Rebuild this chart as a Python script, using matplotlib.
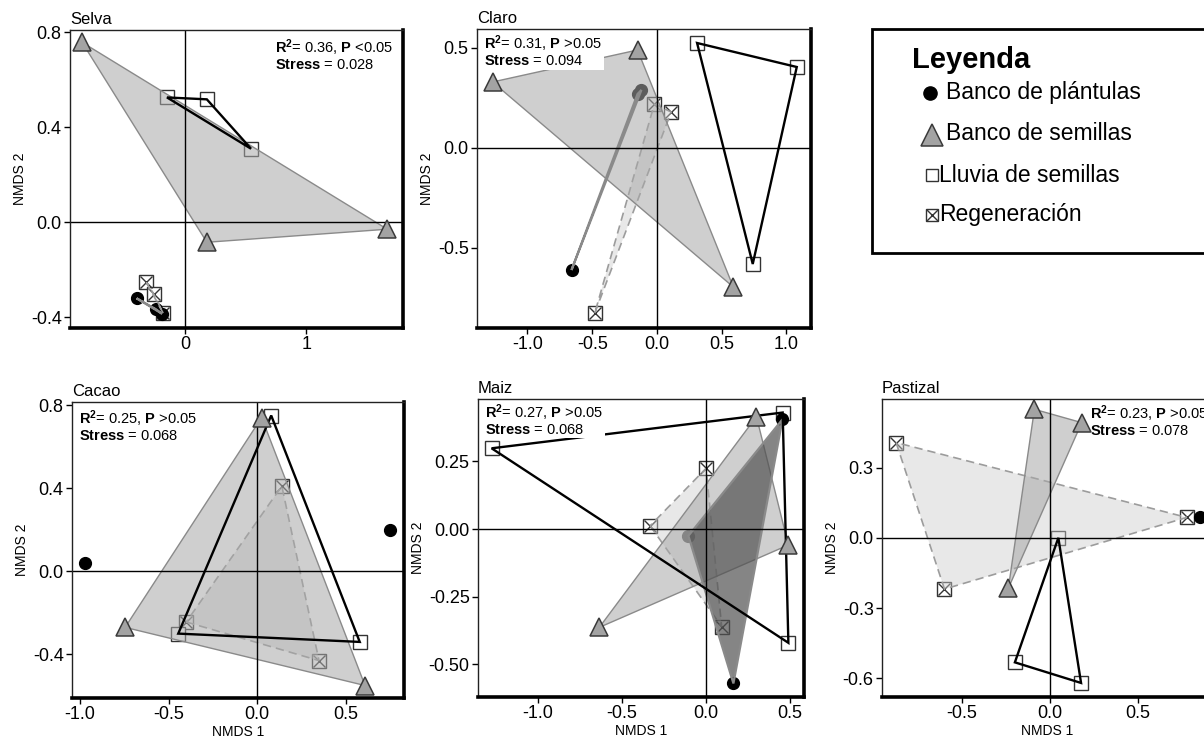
import matplotlib
matplotlib.use('Agg')
import matplotlib.pyplot as plt
from matplotlib.patches import Rectangle

plt.rcParams['font.family'] = ['Liberation Sans', 'DejaVu Sans']
plt.rcParams['axes.unicode_minus'] = False
plt.rcParams['mathtext.fontset'] = 'custom'
plt.rcParams['mathtext.rm'] = 'Liberation Sans'
plt.rcParams['mathtext.bf'] = 'Liberation Sans:bold'
plt.rcParams['mathtext.it'] = 'Liberation Sans:italic'

# ---------------- data ----------------
panel_names = ['Selva', 'Claro', 'Cacao', 'Maiz', 'Pastizal']
r2_values = ['0.36', '0.31', '0.25', '0.27', '0.23']
p_values = ['<0.05', '>0.05', '>0.05', '>0.05', '>0.05']
stress_values = ['0.028', '0.094', '0.068', '0.068', '0.078']

group_labels = ['Banco de plántulas', 'Banco de semillas', 'Lluvia de semillas', 'Regeneración']

selva_plantulas = [(-0.40, -0.32), (-0.24, -0.366), (-0.19, -0.385)]
selva_semillas = [(-0.85, 0.758), (0.18, -0.084), (1.67, -0.029)]
selva_lluvia = [(-0.149, 0.526), (0.18, 0.518), (0.545, 0.31)]
selva_regeneracion = [(-0.32, -0.253), (-0.26, -0.30), (-0.18, -0.383)]

claro_plantulas = [(-0.66, -0.61), (-0.15, 0.27), (-0.12, 0.29)]
claro_semillas = [(-1.27, 0.33), (-0.15, 0.49), (0.59, -0.695)]
claro_lluvia = [(0.31, 0.525), (1.08, 0.405), (0.74, -0.58)]
claro_regeneracion = [(-0.48, -0.825), (0.11, 0.18), (-0.02, 0.22)]

cacao_plantulas = [(-0.97, 0.04), (0.75, 0.20)]
cacao_semillas = [(0.026, 0.74), (-0.745, -0.27), (0.61, -0.55)]
cacao_lluvia = [(0.08, 0.75), (0.58, -0.34), (-0.445, -0.30)]
cacao_regeneracion = [(0.14, 0.41), (-0.40, -0.244), (0.35, -0.43)]

maiz_plantulas = [(0.455, 0.405), (0.163, -0.57), (-0.105, -0.025)]
maiz_semillas = [(0.30, 0.415), (0.49, -0.059), (-0.635, -0.363)]
maiz_lluvia = [(0.456, 0.43), (-1.276, 0.298), (0.49, -0.42)]
maiz_regeneracion = [(0.0, 0.224), (-0.333, 0.012), (0.093, -0.36)]

pastizal_plantulas = [(0.85, 0.087)]
pastizal_semillas = [(-0.089, 0.549), (0.18, 0.492), (-0.237, -0.215)]
pastizal_lluvia = [(0.047, 0.0), (-0.20, -0.532), (0.176, -0.62)]
pastizal_regeneracion = [(-0.875, 0.407), (-0.60, -0.219), (0.777, 0.087)]

panel_data = [
    (selva_plantulas, selva_semillas, selva_lluvia, selva_regeneracion),
    (claro_plantulas, claro_semillas, claro_lluvia, claro_regeneracion),
    (cacao_plantulas, cacao_semillas, cacao_lluvia, cacao_regeneracion),
    (maiz_plantulas, maiz_semillas, maiz_lluvia, maiz_regeneracion),
    (pastizal_plantulas, pastizal_semillas, pastizal_lluvia, pastizal_regeneracion),
]

xticks = [[0, 1], [-1.0, -0.5, 0.0, 0.5, 1.0], [-1.0, -0.5, 0.0, 0.5],
          [-1.0, -0.5, 0.0, 0.5], [-0.5, 0.0, 0.5]]
xticklabels = [['0', '1'], ['-1.0', '-0.5', '0.0', '0.5', '1.0'], ['-1.0', '-0.5', '0.0', '0.5'],
               ['-1.0', '-0.5', '0.0', '0.5'], ['-0.5', '0.0', '0.5']]
yticks = [[-0.4, 0.0, 0.4, 0.8], [-0.5, 0.0, 0.5], [-0.4, 0.0, 0.4, 0.8],
          [-0.5, -0.25, 0.0, 0.25], [-0.6, -0.3, 0.0, 0.3]]
yticklabels = [['-0.4', '0.0', '0.4', '0.8'], ['-0.5', '0.0', '0.5'], ['-0.4', '0.0', '0.4', '0.8'],
               ['-0.50', '-0.25', '0.00', '0.25'], ['-0.6', '-0.3', '0.0', '0.3']]

# ---------------- layout ----------------
W, H = 1204, 740
rects_px = [(70, 30, 403, 328), (477, 29, 811, 328), (72, 402, 404, 698),
            (478, 399, 804, 697), (882, 399, 1212, 697)]
xlims = [(-0.95, 1.80), (-1.39, 1.19), (-1.045, 0.83), (-1.357, 0.583), (-0.955, 0.92)]
ylims = [(-0.445, 0.81), (-0.90, 0.595), (-0.61, 0.815), (-0.62, 0.48), (-0.68, 0.593)]
text_pos = [(0.615, 0.975), (0.022, 0.985), (0.022, 0.98), (0.022, 0.99), (0.63, 0.985)]
text_box = [False, True, True, True, False]
show_xlabel = [False, False, True, True, True]


def convex_hull(points):
    pts = sorted(set(points))
    if len(pts) < 3:
        return pts

    def cross(o, a, b):
        return (a[0] - o[0]) * (b[1] - o[1]) - (a[1] - o[1]) * (b[0] - o[0])

    lower = []
    for p in pts:
        while len(lower) >= 2 and cross(lower[-2], lower[-1], p) <= 0:
            lower.pop()
        lower.append(p)
    upper = []
    for p in reversed(pts):
        while len(upper) >= 2 and cross(upper[-2], upper[-1], p) <= 0:
            upper.pop()
        upper.append(p)
    return lower[:-1] + upper[:-1]


fig = plt.figure(figsize=(W / 100, H / 100), dpi=100)

for i, name in enumerate(panel_names):
    l, t, r, b = rects_px[i]
    ax = fig.add_axes([l / W, 1 - b / H, (r - l) / W, (b - t) / H])
    ax.set_xlim(*xlims[i])
    ax.set_ylim(*ylims[i])
    plantulas, semillas, lluvia, regeneracion = panel_data[i]

    # hulls
    if len(regeneracion) >= 3:
        hp = convex_hull(regeneracion)
        ax.fill([p[0] for p in hp], [p[1] for p in hp], facecolor=(0.80, 0.80, 0.80, 0.45),
                edgecolor='#9c9c9c', lw=1.2, ls=(0, (5, 3)), zorder=3.0)
    if len(semillas) >= 3:
        hp = convex_hull(semillas)
        ax.fill([p[0] for p in hp], [p[1] for p in hp], facecolor=(0.66, 0.66, 0.66, 0.55),
                edgecolor='#8a8a8a', lw=1.0, zorder=3.1)
    if len(plantulas) >= 3:
        hp = convex_hull(plantulas)
        ax.fill([p[0] for p in hp], [p[1] for p in hp], facecolor=(0.32, 0.32, 0.32, 0.7),
                edgecolor='#8a8a8a', lw=1.6, zorder=3.2)
    if len(lluvia) >= 3:
        hp = convex_hull(lluvia)
        ax.fill([p[0] for p in hp], [p[1] for p in hp], facecolor='none',
                edgecolor='black', lw=1.7, zorder=4)

    ax.axhline(0, color='black', lw=1.0, zorder=3.3)
    ax.axvline(0, color='black', lw=1.0, zorder=3.3)

    # markers
    ax.plot([p[0] for p in regeneracion], [p[1] for p in regeneracion], ls='none', marker='s',
            ms=10, mfc='white', mec='#333333', mew=1.0, zorder=2.0)
    ax.plot([p[0] for p in regeneracion], [p[1] for p in regeneracion], ls='none', marker='x',
            ms=9, mec='#333333', mew=1.0, zorder=2.05)
    ax.plot([p[0] for p in lluvia], [p[1] for p in lluvia], ls='none', marker='s',
            ms=9.5, mfc='white', mec='#333333', mew=1.0, zorder=2.1)
    ax.plot([p[0] for p in plantulas], [p[1] for p in plantulas], ls='none', marker='o',
            ms=8.5, mfc='black', mec='black', zorder=2.2)
    ax.plot([p[0] for p in semillas], [p[1] for p in semillas], ls='none', marker='^',
            ms=13, mfc='#a3a3a3', mec='#3a3a3a', mew=1.1, zorder=6)

    # annotation
    txt = (r'$\mathbf{R^2}$= ' + r2_values[i] + r', $\mathbf{P}$ ' + p_values[i] +
           '\n' + r'$\mathbf{Stress}$ = ' + stress_values[i])
    bbox = dict(boxstyle='square,pad=0.12', facecolor='white', edgecolor='none') if text_box[i] else None
    ax.text(text_pos[i][0], text_pos[i][1], txt, transform=ax.transAxes, ha='left', va='top',
            fontsize=10.5, linespacing=1.0, bbox=bbox, zorder=5)

    ax.set_xticks(xticks[i])
    ax.set_xticklabels(xticklabels[i])
    ax.set_yticks(yticks[i])
    ax.set_yticklabels(yticklabels[i])
    ax.tick_params(direction='out', length=4, width=1, labelsize=13, pad=2)
    ax.set_ylabel('NMDS 2', fontsize=10, labelpad=3)
    if show_xlabel[i]:
        ax.set_xlabel('NMDS 1', fontsize=10, labelpad=1)
    ax.set_title(name, loc='left', fontsize=12, pad=4)

    for s in ['left', 'top']:
        ax.spines[s].set_linewidth(1.0)
        ax.spines[s].set_color('#222222')
    for s in ['right', 'bottom']:
        ax.spines[s].set_linewidth(2.6)
        ax.spines[s].set_color('black')
    for s in ax.spines.values():
        s.set_zorder(7)

# ---------------- legend ----------------
lax = fig.add_axes([0, 0, 1, 1])
lax.set_xlim(0, W)
lax.set_ylim(H, 0)
lax.axis('off')
lax.add_patch(Rectangle((872, 29), 400, 224, facecolor='white', edgecolor='black', lw=2))
lax.text(912, 60, 'Leyenda', fontsize=21, fontweight='bold', va='center', ha='left')
row_y = [93, 134, 175, 215]
lax.plot([930], [row_y[0]], marker='o', ms=9.5, mfc='black', mec='black', ls='none')
lax.plot([932], [row_y[1] + 1], marker='^', ms=16, mfc='#a3a3a3', mec='#3a3a3a', mew=1.1, ls='none')
lax.plot([932], [row_y[2]], marker='s', ms=8, mfc='white', mec='#333333', mew=1.0, ls='none')
lax.plot([932], [row_y[3]], marker='s', ms=8.5, mfc='white', mec='#333333', mew=1.0, ls='none')
lax.plot([932], [row_y[3]], marker='x', ms=8, mec='#333333', mew=1.0, ls='none')
text_x = [946, 946, 939, 939]
for lbl, yy, xx in zip(group_labels, row_y, text_x):
    lax.text(xx, yy, lbl, fontsize=16.5, va='center', ha='left')

fig.savefig('out.png', dpi=100)
